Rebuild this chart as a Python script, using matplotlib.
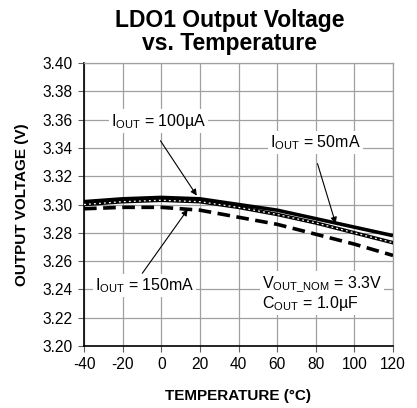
import matplotlib
matplotlib.use("Agg")
import matplotlib.pyplot as plt

plt.rcParams['font.family'] = ['Liberation Sans', 'DejaVu Sans']
plt.rcParams['mathtext.default'] = 'regular'
plt.rcParams['axes.unicode_minus'] = False

temps = [-40, -20, 0, 20, 40, 60, 80, 100, 120]
v_100uA = [3.302, 3.304, 3.305, 3.304, 3.300, 3.296, 3.290, 3.284, 3.278]
v_50mA = [3.300, 3.302, 3.303, 3.302, 3.298, 3.293, 3.287, 3.280, 3.273]
v_150mA = [3.297, 3.298, 3.298, 3.296, 3.291, 3.286, 3.279, 3.272, 3.264]

xticks = [-40, -20, 0, 20, 40, 60, 80, 100, 120]
yticks = [3.20, 3.22, 3.24, 3.26, 3.28, 3.30, 3.32, 3.34, 3.36, 3.38, 3.40]

fig = plt.figure(figsize=(4.17, 4.08), dpi=100)
ax = fig.add_axes([84/417, 1-346/408, (393-84)/417, (346-63)/408])

ax.plot(temps, v_100uA, color='black', lw=2.6, solid_capstyle='butt', zorder=3)
ax.plot(temps, v_50mA, color='black', lw=2.6, zorder=3)
ax.plot(temps, v_50mA, color='white', lw=0.9, ls=(0, (1.5, 2.5)), zorder=4)
ax.plot(temps, v_150mA, color='black', lw=2.6, ls=(0, (3.5, 1.8)), zorder=3)

ax.set_xlim(-40, 120)
ax.set_ylim(3.20, 3.40)
ax.set_xticks(xticks)
ax.set_xticklabels([str(t) for t in xticks])
ax.set_yticks(yticks)
ax.set_yticklabels([f"{v:.2f}" for v in yticks])
ax.grid(True, color='#a0a0a0', lw=0.9)
ax.set_axisbelow(True)
for s in ['top', 'right']:
    ax.spines[s].set_color('#a0a0a0')
    ax.spines[s].set_linewidth(0.9)
for s in ['left', 'bottom']:
    ax.spines[s].set_color('black')
    ax.spines[s].set_linewidth(1.2)
ax.tick_params(direction='out', length=4, width=0.8, color='#606060', labelsize=11.2, pad=4)

ax.set_xlabel('TEMPERATURE (°C)', fontsize=11, fontweight='bold', labelpad=12)
ax.set_ylabel('OUTPUT VOLTAGE (V)', fontsize=11, fontweight='bold', labelpad=10)
fig.text(230/417, 1-32/408, 'LDO1 Output Voltage\nvs. Temperature', ha='center', va='center',
         fontsize=16.5, fontweight='bold', linespacing=1.0)

bbox = dict(facecolor='white', edgecolor='none', pad=1.5)
arrow = dict(arrowstyle='-|>', color='black', lw=0.8, mutation_scale=9, shrinkA=0, shrinkB=0)

ax.text(-1.4, 3.359, r'I$_{OUT}$ = 100µA', ha='center', va='center', fontsize=11.5, bbox=bbox, zorder=5)
ax.annotate('', xy=(18.4, 3.3063), xytext=(-0.4, 3.345), arrowprops=arrow, zorder=6)

ax.text(79.9, 3.3437, r'I$_{OUT}$ = 50mA', ha='center', va='center', fontsize=11.5, bbox=bbox, zorder=5)
ax.annotate('', xy=(90.3, 3.2866), xytext=(80.9, 3.3289), arrowprops=arrow, zorder=6)

ax.text(-8.7, 3.243, r'I$_{OUT}$ = 150mA', ha='center', va='center', fontsize=11.5, bbox=bbox, zorder=5)
ax.annotate('', xy=(13.7, 3.2965), xytext=(-9.8, 3.2514), arrowprops=arrow, zorder=6)

ax.text(52.0, 3.2367, 'V$_{OUT\\_NOM}$ = 3.3V\nC$_{OUT}$ = 1.0µF', ha='left', va='center', fontsize=11.5,
        linespacing=1.0, bbox=bbox, zorder=5)

fig.savefig('out.png', dpi=100)
